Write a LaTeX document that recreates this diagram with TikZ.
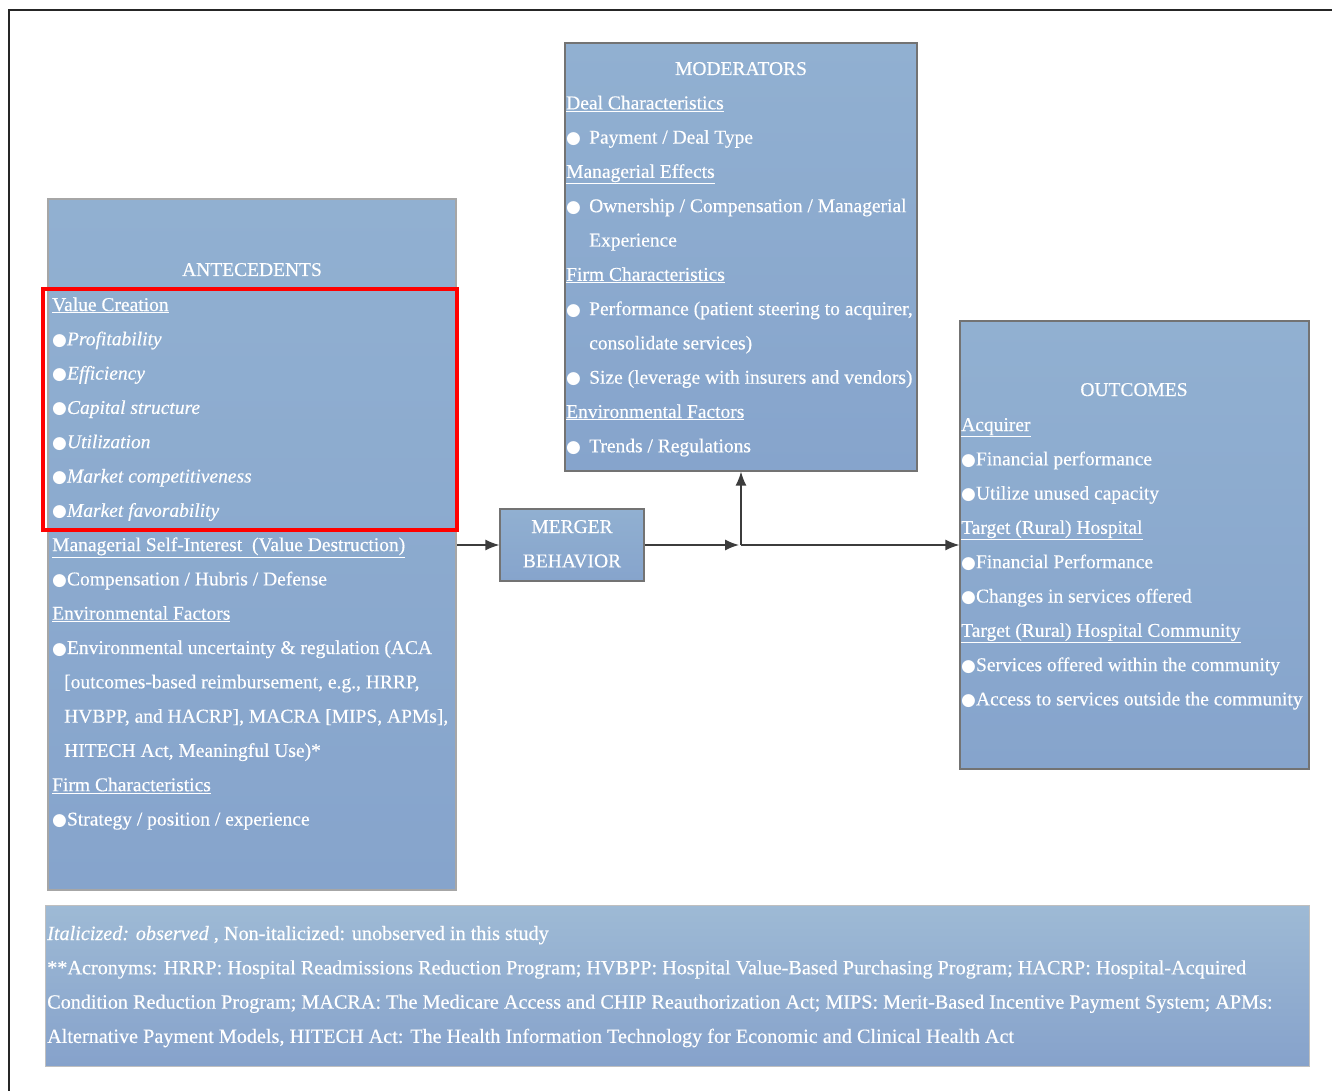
\documentclass[tikz,border=0pt]{standalone}
\usepackage{fontspec}
\setmainfont{Liberation Serif}
\newfontfamily\heavy{Liberation Serif}[FakeBold=0.35]
\newfontfamily\dvfont{DejaVu Sans}
\usetikzlibrary{arrows.meta}
\definecolor{boxtop}{RGB}{145,176,209}
\definecolor{boxbot}{RGB}{134,164,204}
\definecolor{foottop}{RGB}{158,186,213}
\definecolor{footbot}{RGB}{134,162,203}
\definecolor{arrowgray}{RGB}{60,60,60}
\newcommand\bul{{\dvfont\fontsize{17}{17}\selectfont ●}}
\newcommand\bulsp{\makebox[23pt][l]{\bul}}
\tikzset{
  box/.style={draw=black!55, line width=1.2pt, top color=boxtop, bottom color=boxbot, inner sep=0, rectangle},
  txt/.style={anchor=base west, text=white, inner sep=0, font=\heavy\fontsize{19.5}{23}\selectfont},
  ctxt/.style={anchor=base, text=white, inner sep=0, font=\heavy\fontsize{19.5}{23}\selectfont},
  ftxt/.style={anchor=base west, text=white, inner sep=0, font=\heavy\fontsize{20.2}{23}\selectfont},
  conn/.style={draw=arrowgray, line width=1.5pt, -{Latex[length=14pt,width=11pt]}},
}
\begin{document}
\begin{tikzpicture}[x=1pt,y=-1pt]
\useasboundingbox (0,0) rectangle (1332,1091);
\fill[white] (0,0) rectangle (1332,1091);
% outer frame
\draw[black!85, line width=1.5pt] (9,1091) -- (9,10) -- (1332,10);

% boxes
\node[box, draw=black!35, line width=2.5pt, minimum width=408pt, minimum height=691pt] (ant) at (252,544.5) {};
\node[box, minimum width=352pt, minimum height=428pt] (mod) at (741,257) {};
\node[box, minimum width=144pt, minimum height=72pt] (mer) at (572,545) {};
\node[box, minimum width=349pt, minimum height=448pt] (out) at (1134.5,545) {};
\node[box, draw=black!25, line width=0.8pt, top color=foottop, bottom color=footbot, minimum width=1264pt, minimum height=161pt] (foot) at (677,985.5) {};
\node[draw=red, line width=4pt, minimum width=414pt, minimum height=241pt, inner sep=0] (red) at (250,409.5) {};

% antecedents text
\node[ctxt] (a0) at (252,276) {ANTECEDENTS};
\node[txt] (a1) at (52,311) {\underline{Value Creation}};
\node[txt] (a2) at (52,345.3) {\bul\textit{Profitability}};
\node[txt] (a3) at (52,379.6) {\bul\textit{Efficiency}};
\node[txt] (a4) at (52,413.9) {\bul\textit{Capital structure}};
\node[txt] (a5) at (52,448.2) {\bul\textit{Utilization}};
\node[txt] (a6) at (52,482.5) {\bul\textit{Market competitiveness}};
\node[txt] (a7) at (52,516.8) {\bul\textit{Market favorability}};
\node[txt] (a8) at (52,551.1) {\underline{Managerial Self-Interest\ \ (Value Destruction)}};
\node[txt] (a9) at (52,585.4) {\bul Compensation / Hubris / Defense};
\node[txt] (a10) at (52,619.7) {\underline{Environmental Factors}};
\node[txt] (a11) at (52,654) {\bul Environmental uncertainty \& regulation (ACA};
\node[txt] (a12) at (64,688.3) {[outcomes-based reimbursement, e.g., HRRP,};
\node[txt] (a13) at (64,722.6) {HVBPP, and HACRP], MACRA [MIPS, APMs],};
\node[txt] (a14) at (64,756.9) {HITECH Act, Meaningful Use)*};
\node[txt] (a15) at (52,791.2) {\underline{Firm Characteristics}};
\node[txt] (a16) at (52,825.5) {\bul Strategy / position / experience};

% moderators text
\node[ctxt] (m0) at (741,75) {MODERATORS};
\node[txt] (m1) at (566,109.3) {\underline{Deal Characteristics}};
\node[txt] (m2) at (566,143.6) {\bulsp Payment / Deal Type};
\node[txt] (m3) at (566,177.9) {\underline{Managerial Effects}};
\node[txt] (m4) at (566,212.2) {\bulsp Ownership / Compensation / Managerial};
\node[txt] (m5) at (589,246.5) {Experience};
\node[txt] (m6) at (566,280.8) {\underline{Firm Characteristics}};
\node[txt] (m7) at (566,315.1) {\bulsp Performance (patient steering to acquirer,};
\node[txt] (m8) at (589,349.4) {consolidate services)};
\node[txt] (m9) at (566,383.7) {\bulsp Size (leverage with insurers and vendors)};
\node[txt] (m10) at (566,418) {\underline{Environmental Factors}};
\node[txt] (m11) at (566,452.3) {\bulsp Trends / Regulations};

% merger text
\node[ctxt] (b1) at (572,533) {MERGER};
\node[ctxt] (b2) at (572,567.3) {BEHAVIOR};

% outcomes text
\node[ctxt] (o0) at (1134,396) {OUTCOMES};
\node[txt] (o1) at (961,431) {\underline{Acquirer}};
\node[txt] (o2) at (961,465.3) {\bul Financial performance};
\node[txt] (o3) at (961,499.6) {\bul Utilize unused capacity};
\node[txt] (o4) at (961,533.9) {\underline{Target (Rural) Hospital}};
\node[txt] (o5) at (961,568.2) {\bul Financial Performance};
\node[txt] (o6) at (961,602.5) {\bul Changes in services offered};
\node[txt] (o7) at (961,636.8) {\underline{Target (Rural) Hospital Community}};
\node[txt] (o8) at (961,671.1) {\bul Services offered within the community};
\node[txt] (o9) at (961,705.4) {\bul Access to services outside the community};

% footer text
\node[ftxt] (f1) at (47,940) {\textit{Italicized: observed} , Non-italicized: unobserved in this study};
\node[ftxt] (f2) at (47,974.3) {**Acronyms: HRRP: Hospital Readmissions Reduction Program; HVBPP: Hospital Value-Based Purchasing Program; HACRP: Hospital-Acquired};
\node[ftxt] (f3) at (47,1008.6) {Condition Reduction Program; MACRA: The Medicare Access and CHIP Reauthorization Act; MIPS: Merit-Based Incentive Payment System; APMs:};
\node[ftxt] (f4) at (47,1042.9) {Alternative Payment Models, HITECH Act: The Health Information Technology for Economic and Clinical Health Act};

% connectors
\coordinate (j) at (741,545);
\draw[conn] (ant.east |- mer.west) -- (mer.west);
\draw[conn, shorten >=2pt] (mer.east) -- (j);
\draw[conn] (j) -- (j |- mod.south);
\draw[conn] (j) -- (j -| out.west);
\end{tikzpicture}
\end{document}
